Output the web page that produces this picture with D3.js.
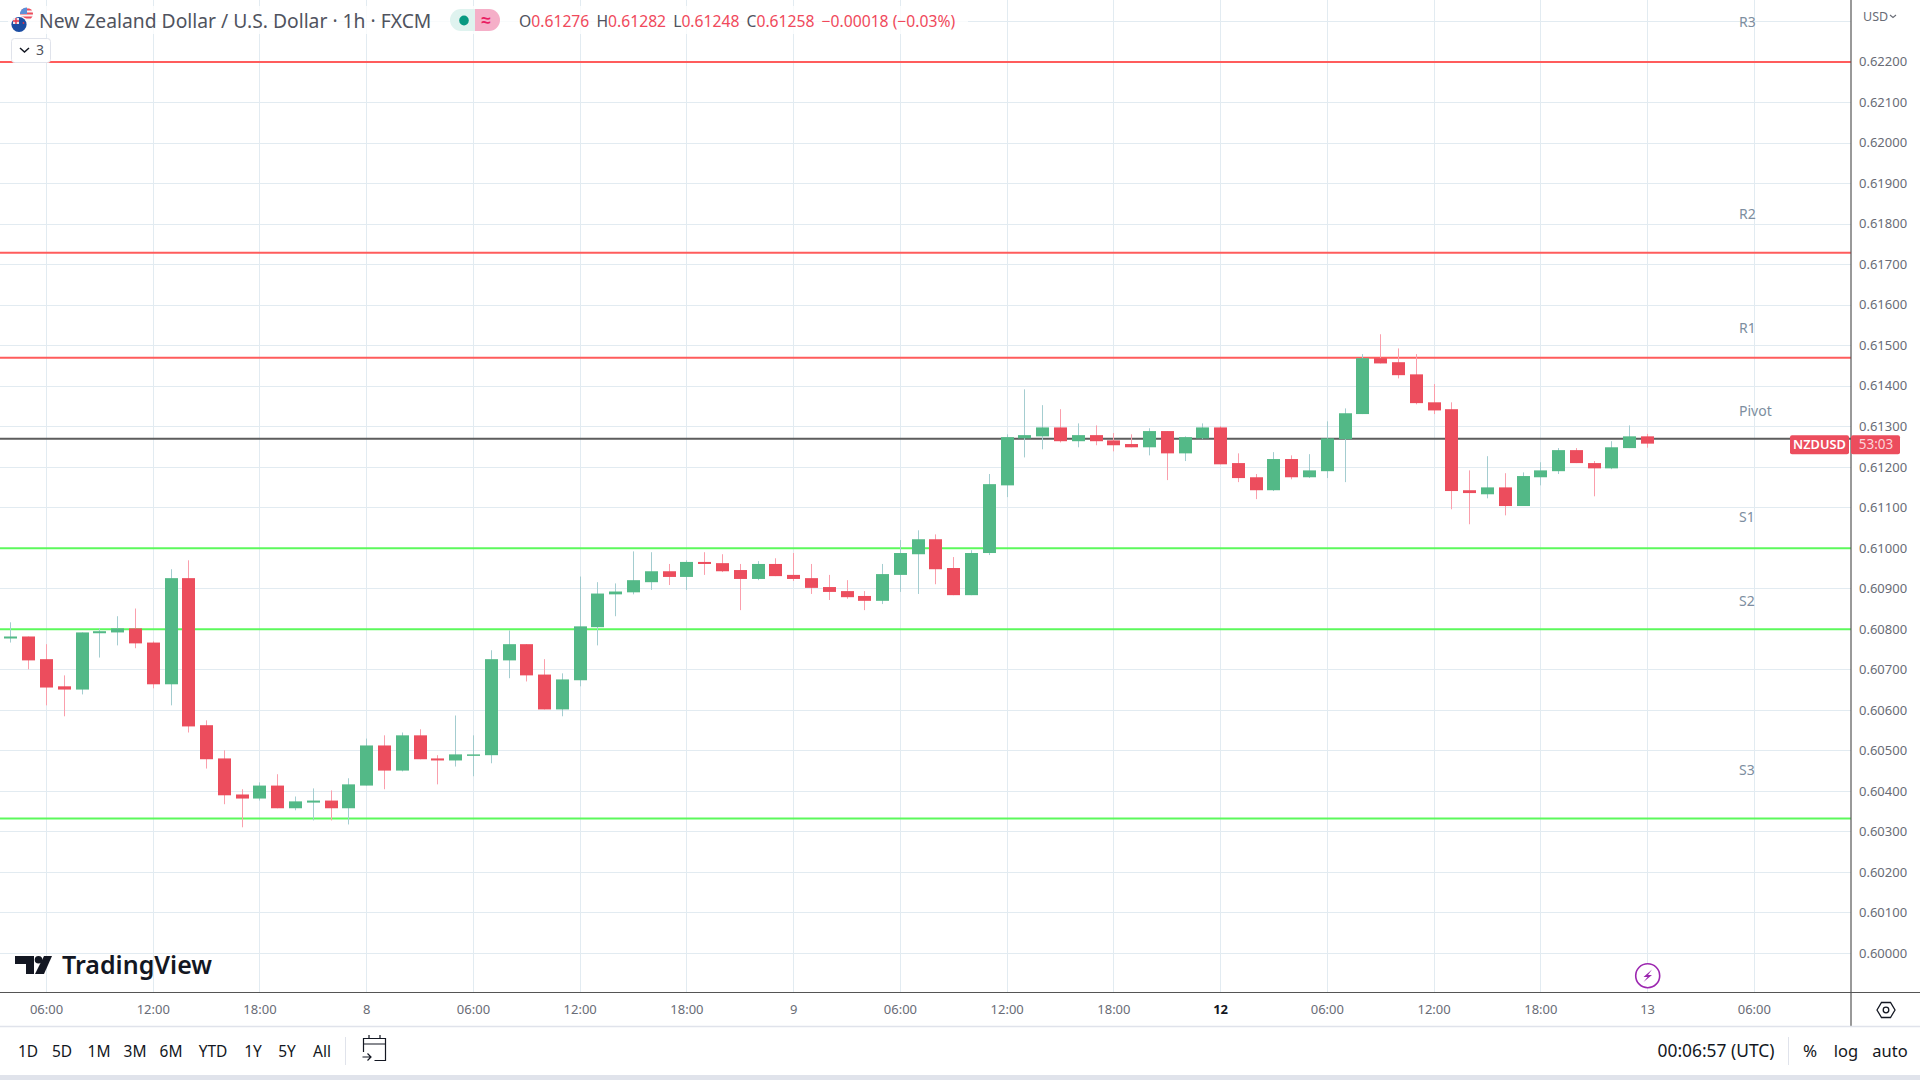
<!DOCTYPE html>
<html>
<head>
<meta charset="utf-8">
<title>NZDUSD 1h</title>
<script src="https://d3js.org/d3.v7.min.js"></script>
<style>
  html, body { margin: 0; padding: 0; background: #fff; overflow: hidden; }
  svg { display: block; font-family: "Noto Sans", sans-serif; }
  .price-axis .domain, .time-axis .domain { display: none; }
</style>
</head>
<body>
<div id="chart"></div>
<script>
// hourly candles, index 0 is the leftmost bar
const opens = [
  0.60777, 0.60782, 0.60726, 0.60659, 0.60651, 0.60790, 0.60792, 0.60802, 0.60767, 0.60664,
  0.60926, 0.60563, 0.60481, 0.60392, 0.60382, 0.60414, 0.60358, 0.60372, 0.60377, 0.60358,
  0.60414, 0.60513, 0.60451, 0.60538, 0.60481, 0.60476, 0.60489, 0.60489, 0.60723, 0.60763,
  0.60688, 0.60602, 0.60674, 0.60805, 0.60886, 0.60891, 0.60916, 0.60943, 0.60929, 0.60966,
  0.60963, 0.60946, 0.60924, 0.60961, 0.60934, 0.60926, 0.60904, 0.60894, 0.60882, 0.60870,
  0.60934, 0.60985, 0.61022, 0.60951, 0.60884, 0.60988, 0.61155, 0.61271, 0.61276, 0.61298,
  0.61264, 0.61279, 0.61266, 0.61257, 0.61249, 0.61289, 0.61234, 0.61271, 0.61298, 0.61210,
  0.61175, 0.61143, 0.61220, 0.61175, 0.61190, 0.61269, 0.61331, 0.61469, 0.61459, 0.61429,
  0.61360, 0.61343, 0.61143, 0.61133, 0.61150, 0.61104, 0.61175, 0.61190, 0.61242, 0.61210,
  0.61197, 0.61247, 0.61276
];
const highs = [
  0.60817, 0.60782, 0.60763, 0.60686, 0.60792, 0.60802, 0.60832, 0.60851, 0.60770, 0.60948,
  0.60970, 0.60575, 0.60501, 0.60405, 0.60422, 0.60442, 0.60387, 0.60407, 0.60402, 0.60432,
  0.60530, 0.60538, 0.60545, 0.60553, 0.60489, 0.60587, 0.60538, 0.60748, 0.60797, 0.60763,
  0.60726, 0.60691, 0.60930, 0.60916, 0.60913, 0.60992, 0.60990, 0.60961, 0.60970, 0.60990,
  0.60985, 0.60961, 0.60968, 0.60975, 0.60988, 0.60961, 0.60934, 0.60921, 0.60894, 0.60961,
  0.61020, 0.61044, 0.61034, 0.60978, 0.60995, 0.61183, 0.61281, 0.61392, 0.61353, 0.61343,
  0.61308, 0.61303, 0.61284, 0.61281, 0.61296, 0.61289, 0.61276, 0.61308, 0.61301, 0.61234,
  0.61183, 0.61237, 0.61229, 0.61232, 0.61313, 0.61345, 0.61479, 0.61528, 0.61493, 0.61479,
  0.61405, 0.61360, 0.61192, 0.61227, 0.61185, 0.61187, 0.61212, 0.61247, 0.61247, 0.61215,
  0.61264, 0.61303, 0.61282
];
const lows = [
  0.60767, 0.60701, 0.60612, 0.60585, 0.60639, 0.60730, 0.60760, 0.60753, 0.60654, 0.60612,
  0.60545, 0.60456, 0.60368, 0.60311, 0.60377, 0.60358, 0.60353, 0.60328, 0.60328, 0.60318,
  0.60414, 0.60405, 0.60449, 0.60479, 0.60417, 0.60461, 0.60437, 0.60469, 0.60679, 0.60671,
  0.60602, 0.60585, 0.60659, 0.60760, 0.60832, 0.60886, 0.60897, 0.60909, 0.60897, 0.60934,
  0.60941, 0.60847, 0.60921, 0.60931, 0.60919, 0.60887, 0.60872, 0.60875, 0.60847, 0.60862,
  0.60892, 0.60887, 0.60911, 0.60884, 0.60884, 0.60983, 0.61126, 0.61224, 0.61244, 0.61261,
  0.61249, 0.61254, 0.61239, 0.61249, 0.61229, 0.61168, 0.61215, 0.61269, 0.61207, 0.61163,
  0.61121, 0.61141, 0.61170, 0.61173, 0.61173, 0.61163, 0.61331, 0.61456, 0.61419, 0.61355,
  0.61331, 0.61096, 0.61059, 0.61123, 0.61081, 0.61104, 0.61155, 0.61183, 0.61210, 0.61128,
  0.61195, 0.61247, 0.61248
];
const closes = [
  0.60782, 0.60723, 0.60656, 0.60651, 0.60792, 0.60795, 0.60802, 0.60765, 0.60664, 0.60926,
  0.60560, 0.60479, 0.60390, 0.60382, 0.60414, 0.60358, 0.60375, 0.60377, 0.60358, 0.60417,
  0.60513, 0.60451, 0.60538, 0.60479, 0.60476, 0.60491, 0.60491, 0.60726, 0.60763, 0.60686,
  0.60602, 0.60676, 0.60807, 0.60888, 0.60893, 0.60921, 0.60943, 0.60929, 0.60966, 0.60961,
  0.60943, 0.60924, 0.60961, 0.60931, 0.60924, 0.60902, 0.60892, 0.60879, 0.60870, 0.60936,
  0.60988, 0.61022, 0.60948, 0.60884, 0.60988, 0.61158, 0.61274, 0.61279, 0.61298, 0.61264,
  0.61279, 0.61264, 0.61254, 0.61249, 0.61289, 0.61234, 0.61274, 0.61298, 0.61207, 0.61173,
  0.61143, 0.61220, 0.61175, 0.61192, 0.61271, 0.61333, 0.61469, 0.61456, 0.61427, 0.61358,
  0.61340, 0.61141, 0.61136, 0.61150, 0.61104, 0.61178, 0.61192, 0.61242, 0.61210, 0.61197,
  0.61249, 0.61276, 0.61258
];

// pivot levels
const levelNames = ["R3", "R2", "R1", "Pivot", "S1", "S2", "S3"];
const levelPrices = [0.62200, 0.61729, 0.61470, 0.61270, 0.61000, 0.60800, 0.60333];
const levelKinds = ["res", "res", "res", "pivot", "sup", "sup", "sup"];

// axis ticks
const priceTicks = [
  0.600, 0.601, 0.602, 0.603, 0.604, 0.605, 0.606, 0.607, 0.608, 0.609, 0.610, 0.611,
  0.612, 0.613, 0.614, 0.615, 0.616, 0.617, 0.618, 0.619, 0.620, 0.621, 0.622
];
const priceGridExtra = [0.623];
const timeTickBars = [2, 8, 14, 20, 26, 32, 38, 44, 50, 56, 62, 68, 74, 80, 86, 92, 98];
const timeTickLabels = [
  "06:00", "12:00", "18:00", "8", "06:00", "12:00", "18:00", "9", "06:00", "12:00",
  "18:00", "12", "06:00", "12:00", "18:00", "13", "06:00"
];
const rangeButtons = ["1D", "5D", "1M", "3M", "6M", "YTD", "1Y", "5Y", "All"];

// layout
const width = 1920, height = 1080;
const plotRight = 1851, plotBottom = 992, axisBottom = 1026, pageBottom = 1075;
const bodyWidth = 13;
const colors = {
  up: "#53b987", down: "#ec4d5d", upWick: "#a4cdd0", downWick: "#fa9fac",
  res: "#ff5c5c", sup: "#5cf95c", pivot: "#5d5d5d",
  grid: "#e2ebf1", axisLine: "#555555", axisText: "#696c76", dark: "#131722"
};

const x = d3.scaleLinear().domain([2, 98]).range([46.5, 1754.3]);
const y = d3.scaleLinear().domain([0.600, 0.622]).range([953.3, 62]);

const candles = opens.map((o, i) => ({ i, o, h: highs[i], l: lows[i], c: closes[i] }));
const levels = levelNames.map((name, i) => ({ name, price: levelPrices[i], kind: levelKinds[i] }));

const svg = d3.select("#chart").append("svg")
  .attr("width", width)
  .attr("height", height);

svg.append("rect").attr("width", width).attr("height", height).attr("fill", "#fff");

// grid
const snap = v => Math.floor(v) + 0.5;
svg.append("g").selectAll("line")
  .data(timeTickBars)
  .join("line")
  .attr("x1", d => snap(x(d))).attr("x2", d => snap(x(d)))
  .attr("y1", 0).attr("y2", plotBottom)
  .attr("stroke", colors.grid);
svg.append("g").selectAll("line")
  .data(priceTicks.concat(priceGridExtra))
  .join("line")
  .attr("x1", 0).attr("x2", plotRight)
  .attr("y1", d => snap(y(d))).attr("y2", d => snap(y(d)))
  .attr("stroke", colors.grid);

// pivot lines go under the candles
svg.append("g").selectAll("line")
  .data(levels)
  .join("line")
  .attr("x1", 0).attr("x2", plotRight)
  .attr("y1", d => y(d.price)).attr("y2", d => y(d.price))
  .attr("stroke", d => colors[d.kind])
  .attr("stroke-width", 2);

// labels sit a little above their line, S3 a bit further
const labelGaps = { R3: 39.5, R2: 38.5, R1: 29.5, Pivot: 28, S1: 31, S2: 28, S3: 48.5 };
svg.append("g").selectAll("text")
  .data(levels)
  .join("text")
  .attr("x", 1739)
  .attr("y", d => y(d.price) - labelGaps[d.name])
  .attr("dy", "0.35em")
  .attr("font-size", 14)
  .attr("fill", "#7d8ea0")
  .text(d => d.name);

// candles
const candle = svg.append("g").selectAll("g")
  .data(candles)
  .join("g");
candle.append("line")
  .attr("x1", d => snap(x(d.i))).attr("x2", d => snap(x(d.i)))
  .attr("y1", d => y(d.h)).attr("y2", d => y(d.l))
  .attr("stroke", d => d.c >= d.o ? colors.upWick : colors.downWick);
candle.append("rect")
  .attr("x", d => Math.floor(x(d.i)) - 6)
  .attr("y", d => y(Math.max(d.o, d.c)))
  .attr("width", bodyWidth)
  .attr("height", d => Math.max(1.5, Math.abs(y(d.o) - y(d.c))))
  .attr("fill", d => d.c >= d.o ? colors.up : colors.down);

// price axis
svg.append("g")
  .attr("class", "price-axis")
  .attr("transform", `translate(${plotRight},-0.3)`)
  .call(d3.axisRight(y).tickValues(priceTicks).tickSize(0).tickPadding(8).tickFormat(d3.format(".5f")))
  .call(g => g.selectAll("text")
    .attr("font-family", '"Noto Sans", sans-serif')
    .attr("font-size", 13)
    .attr("fill", colors.axisText));

// time axis
svg.append("g")
  .attr("class", "time-axis")
  .attr("transform", `translate(-0.5,${plotBottom})`)
  .call(d3.axisBottom(x).tickValues(timeTickBars).tickSize(0).tickPadding(12.5)
    .tickFormat((d, i) => timeTickLabels[i]))
  .call(g => g.selectAll("text")
    .attr("font-family", '"Noto Sans", sans-serif')
    .attr("font-size", 13)
    .attr("font-weight", (d, i) => timeTickLabels[i] === "12" ? 700 : 400)
    .attr("fill", (d, i) => timeTickLabels[i] === "12" ? colors.dark : colors.axisText));

// frame
const frame = svg.append("g").attr("stroke", colors.axisLine).attr("stroke-width", 1.2);
frame.append("line").attr("x1", 0).attr("x2", width).attr("y1", plotBottom + 0.5).attr("y2", plotBottom + 0.5);
frame.append("line").attr("x1", plotRight).attr("x2", plotRight).attr("y1", 0).attr("y2", axisBottom);
svg.append("line").attr("x1", 0).attr("x2", width).attr("y1", axisBottom + 0.5).attr("y2", axisBottom + 0.5)
  .attr("stroke", "#e0e3eb").attr("stroke-width", 1.5);
svg.append("rect").attr("y", pageBottom).attr("width", width).attr("height", height - pageBottom).attr("fill", "#e0e3eb");

const label = (px, py, str, size, fill, anchor = "start", weight = 400) => svg.append("text")
  .attr("x", px).attr("y", py).attr("dy", "0.35em")
  .attr("font-size", size).attr("fill", fill)
  .attr("text-anchor", anchor).attr("font-weight", weight)
  .text(str);

// header
svg.append("rect").attr("x", 8).attr("y", 6).attr("width", 960).attr("height", 28)
  .attr("fill", "#fff").attr("opacity", 0.8);

// flags
const flags = svg.append("g");
const defs = svg.append("defs");
defs.append("clipPath").attr("id", "usFlag").append("circle").attr("cx", 26.5).attr("cy", 14).attr("r", 6.5);
const us = flags.append("g").attr("clip-path", "url(#usFlag)");
us.append("rect").attr("x", 20).attr("y", 7).attr("width", 14).attr("height", 14).attr("fill", "#f5f5f5");
[8.5, 12.5, 16.5].forEach(v => us.append("rect").attr("x", 20).attr("y", v).attr("width", 14).attr("height", 2).attr("fill", "#ef4d5d"));
us.append("rect").attr("x", 20).attr("y", 7).attr("width", 7).attr("height", 7).attr("fill", "#5b8fd8");
flags.append("circle").attr("cx", 19).attr("cy", 24.5).attr("r", 8.8).attr("fill", "#fff");
flags.append("circle").attr("cx", 19).attr("cy", 24.5).attr("r", 7.6).attr("fill", "#1b4da3");
flags.append("rect").attr("x", 13).attr("y", 18).attr("width", 6).attr("height", 6).attr("fill", "#e8e8f0");
flags.append("path").attr("d", "M13 21h6M16 18v6").attr("stroke", "#e0344a").attr("stroke-width", 1.4);
flags.append("circle").attr("cx", 23.5).attr("cy", 23).attr("r", 0.9).attr("fill", "#e0344a");

label(39, 21, "New Zealand Dollar / U.S. Dollar · 1h · FXCM", 19.3, "#50535e");

// market status pill
svg.append("path").attr("d", "M475 9h-14a11 11 0 0 0 0 22h14z").attr("fill", "#dff3ef");
svg.append("path").attr("d", "M475 9h14a11 11 0 0 1 0 22h-14z").attr("fill", "#f5afc8");
svg.append("ellipse").attr("cx", 464).attr("cy", 20.5).attr("rx", 4.8).attr("ry", 5).attr("fill", "#089981");
label(486, 20, "≈", 17, "#e91e63", "middle", 700);

// ohlc values
const red = "#f0495b", grey = "#50535e";
const ohlc = svg.append("text").attr("x", 519).attr("y", 21.5).attr("dy", "0.35em").attr("font-size", 15.7);
[["O", grey], ["0.61276", red], [" H", grey], ["0.61282", red], [" L", grey], ["0.61248", red],
 [" C", grey], ["0.61258", red], [" −0.00018 (−0.03%)", red]].forEach(([t, c]) => {
  const gap = t.startsWith(" ");
  ohlc.append("tspan").attr("fill", c).attr("dx", gap ? 3 : 0).text(gap ? "\u00a0" + t.slice(1) : t);
});

// collapsed indicators button
svg.append("rect").attr("x", 11.5).attr("y", 38.5).attr("width", 39).attr("height", 24).attr("rx", 3)
  .attr("fill", "#fff").attr("stroke", "#e0e3eb");
svg.append("path").attr("d", "M20 48l4.5 4 4.5-4").attr("fill", "none").attr("stroke", colors.dark).attr("stroke-width", 1.5);
label(40, 50, "3", 14, "#50535e", "middle");

// usd selector
label(1863, 16.5, "USD", 12.5, colors.axisText);
svg.append("path").attr("d", "M1890 15l3 2.5 3-2.5").attr("fill", "none").attr("stroke", colors.axisText).attr("stroke-width", 1.1);

// last price tags
const tagY = y(closes[closes.length - 1]) + 1;
svg.append("rect").attr("x", 1790).attr("y", tagY - 9.5).attr("width", 59).attr("height", 19).attr("rx", 2).attr("fill", colors.down);
svg.append("rect").attr("x", 1851).attr("y", tagY - 9.5).attr("width", 49).attr("height", 19).attr("rx", 2).attr("fill", colors.down);
label(1819.5, tagY, "NZDUSD", 12.8, "#fff", "middle", 600);
label(1876, tagY, "53:03", 13.5, "#fbd5da", "middle");

// logo
const logo = svg.append("g").attr("fill", colors.dark);
logo.append("path").attr("d", "M15 956h19v18h-8v-10h-11z");
logo.append("circle").attr("cx", 38.5).attr("cy", 959.8).attr("r", 3.8);
logo.append("path").attr("d", "M44 956h8l-8 18h-9z");
label(62, 965.5, "TradingView", 25, colors.dark, "start", 600);

// replay bolt
svg.append("circle").attr("cx", 1647.7).attr("cy", 975.7).attr("r", 12).attr("fill", "#fff").attr("stroke", "#9c27b0").attr("stroke-width", 1.6);
svg.append("path").attr("d", "M1652 969.5l-8.5 7.5h4l-4 5 8.5-7h-4z").attr("fill", "#9c27b0");

// settings hexagon
svg.append("path").attr("d", "M1877 1010l4.5-7.5h9l4.5 7.5-4.5 7.5h-9z").attr("fill", "none").attr("stroke", colors.dark).attr("stroke-width", 1.3);
svg.append("circle").attr("cx", 1886).attr("cy", 1010).attr("r", 2.8).attr("fill", "none").attr("stroke", colors.dark).attr("stroke-width", 1.3);

// bottom toolbar
const rangeX = [28, 62, 99, 135, 171, 213, 253, 287, 322];
rangeButtons.forEach((b, i) => label(rangeX[i], 1051.5, b, 15.5, colors.dark, "middle"));
svg.append("line").attr("x1", 345.5).attr("x2", 345.5).attr("y1", 1037).attr("y2", 1065).attr("stroke", "#e0e3eb");
svg.append("path")
  .attr("d", "M363.5 1052v-13.5h22v22h-11M363.5 1044h22M369 1035v4M380 1035v4M362.5 1057h8M367.5 1053.5l3.5 3.5-3.5 3.5")
  .attr("fill", "none").attr("stroke", colors.dark).attr("stroke-width", 1.2);

label(1716, 1051, "00:06:57 (UTC)", 17.4, colors.dark, "middle");
svg.append("line").attr("x1", 1788.5).attr("x2", 1788.5).attr("y1", 1037).attr("y2", 1065).attr("stroke", "#e0e3eb");
label(1810, 1051, "%", 17, colors.dark, "middle");
label(1846, 1051, "log", 16.5, colors.dark, "middle");
label(1890, 1051, "auto", 16.5, colors.dark, "middle");
</script>
</body>
</html>
